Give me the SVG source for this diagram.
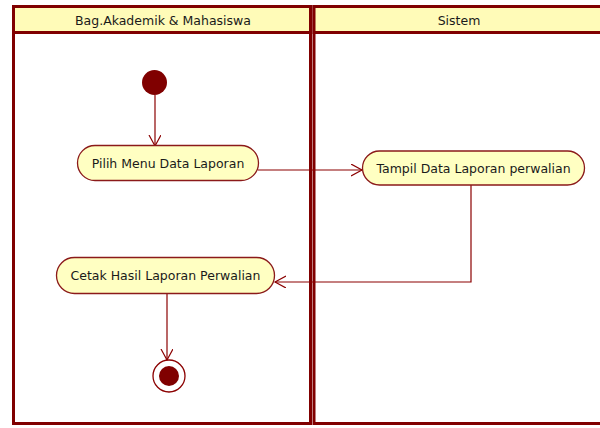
<svg xmlns="http://www.w3.org/2000/svg" width="600" height="428" viewBox="0 0 600 428">
<defs>
<style>
.lane{fill:#fff;stroke:#800000;stroke-width:3}
.hdr{fill:#fffbb8;stroke:#800000;stroke-width:3}
.act{fill:#ffffc2;stroke:#8b1a1a;stroke-width:1.3}
.t{font-family:"DejaVu Sans",Verdana,sans-serif;font-size:12.5px;fill:#1a1a1a;text-anchor:middle}
.c{fill:none;stroke:#8b0000;stroke-width:1.2}
</style>
<marker id="a" markerWidth="14" markerHeight="14" refX="11" refY="6" orient="auto" markerUnits="userSpaceOnUse">
<path d="M0,0 L11,6 L0,12" fill="none" stroke="#8b0000" stroke-width="1.2"/>
</marker>
</defs>
<g id="lane1">
<rect class="lane" x="13.5" y="6.5" width="297" height="417"/>
<rect class="hdr" x="13.5" y="6.5" width="297" height="26"/>
<text class="t" x="163" y="24.5">Bag.Akademik &amp; Mahasiswa</text>
</g>
<g id="lane2">
<rect class="lane" x="314" y="6.5" width="290" height="417"/>
<rect class="hdr" x="314" y="6.5" width="290" height="26"/>
<text class="t" x="459" y="24.5">Sistem</text>
</g>
<g id="connectors">
<path class="c" d="M155,95 V146" marker-end="url(#a)"/>
<path class="c" d="M258,170 H362" marker-end="url(#a)"/>
<path class="c" d="M471,185 V282 H275" marker-end="url(#a)"/>
<path class="c" d="M167,294 V360" marker-end="url(#a)"/>
</g>
<g id="start">
<circle cx="154.5" cy="82.5" r="12.5" fill="#800000"/>
</g>
<g id="pilih">
<rect class="act" x="77.5" y="145.5" width="181" height="35" rx="17.5"/>
<text class="t" x="168" y="167.5">Pilih Menu Data Laporan</text>
</g>
<g id="tampil">
<rect class="act" x="362.5" y="151" width="222" height="34" rx="17"/>
<text class="t" x="473.5" y="172.5">Tampil Data Laporan perwalian</text>
</g>
<g id="cetak">
<rect class="act" x="56.5" y="257.5" width="218" height="36" rx="18"/>
<text class="t" x="165.5" y="280">Cetak Hasil Laporan Perwalian</text>
</g>
<g id="end">
<circle cx="169" cy="376" r="16" fill="#fff" stroke="#8b0000" stroke-width="1.3"/>
<circle cx="169" cy="376" r="10" fill="#800000"/>
</g>
</svg>
